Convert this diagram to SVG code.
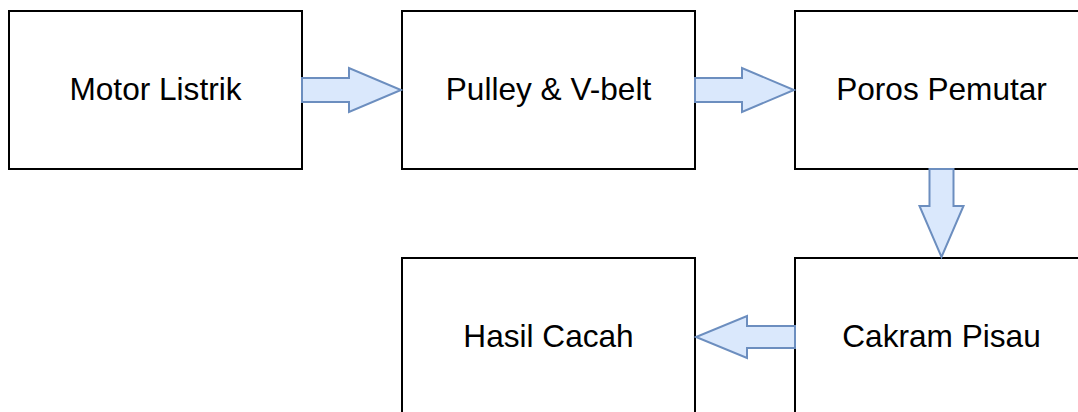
<svg xmlns="http://www.w3.org/2000/svg" width="1078" height="412" viewBox="0 0 1078 412">
  <style>
    .box { fill: #ffffff; stroke: #000000; stroke-width: 2; }
    .label { font-family: "Liberation Sans", Arial, sans-serif; font-size: 31.6px; fill: #000000; text-anchor: middle; }
    .flow { fill: #dae8fc; stroke: #6c8ebf; stroke-width: 2; stroke-linejoin: miter; }
  </style>
  <rect width="1078" height="412" fill="#ffffff"/>

  <g id="motor-listrik">
    <rect class="box" x="9" y="11" width="293" height="158"/>
    <text class="label" x="155.5" y="100">Motor Listrik</text>
  </g>
  <g id="pulley-vbelt">
    <rect class="box" x="402" y="11" width="293" height="158"/>
    <text class="label" x="548.5" y="100">Pulley &amp; V-belt</text>
  </g>
  <g id="poros-pemutar">
    <rect class="box" x="795" y="11" width="293" height="158"/>
    <text class="label" x="941.5" y="100">Poros Pemutar</text>
  </g>
  <g id="hasil-cacah">
    <rect class="box" x="402" y="258" width="293" height="158"/>
    <text class="label" x="548.5" y="347">Hasil Cacah</text>
  </g>
  <g id="cakram-pisau">
    <rect class="box" x="795" y="258" width="293" height="158"/>
    <text class="label" x="941.5" y="347">Cakram Pisau</text>
  </g>

  <g id="connectors">
    <!-- Motor Listrik to Pulley & V-belt -->
    <polygon class="flow" points="302,78 349,78 349,68 401,90 349,112 349,102 302,102"/>
    <!-- Pulley & V-belt to Poros Pemutar -->
    <polygon class="flow" points="695,78 742,78 742,68 794,90 742,112 742,102 695,102"/>
    <!-- Poros Pemutar down to Cakram Pisau -->
    <polygon class="flow" points="929.5,169 953.5,169 953.5,206 963.5,206 941.5,257 919.5,206 929.5,206"/>
    <!-- Cakram Pisau to Hasil Cacah -->
    <polygon class="flow" points="795,326 747,326 747,316 696,337 747,358 747,348 795,348"/>
  </g>
</svg>
